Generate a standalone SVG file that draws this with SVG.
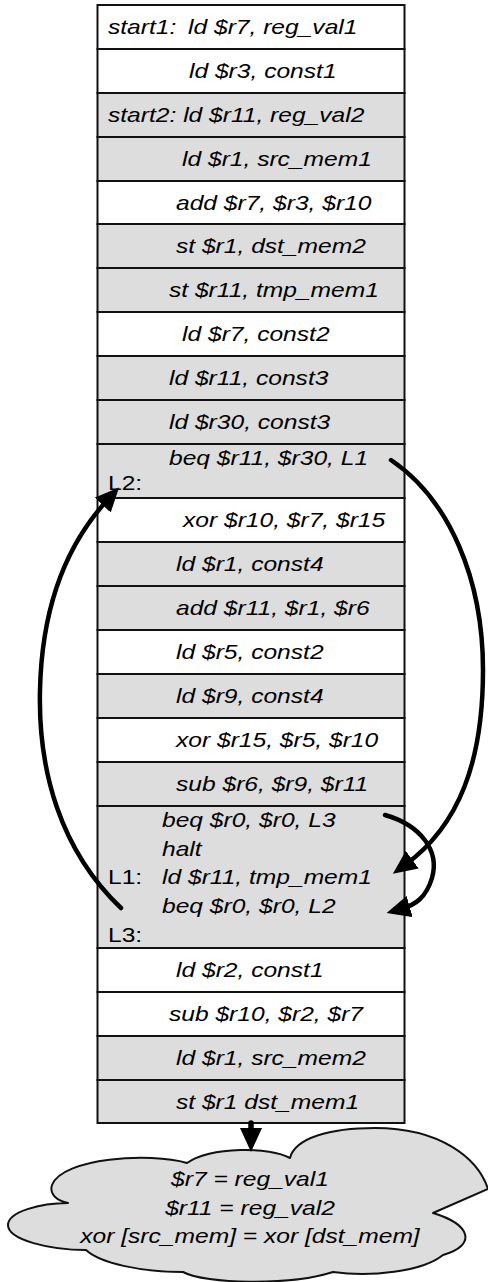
<svg xmlns="http://www.w3.org/2000/svg" width="488" height="1282" viewBox="0 0 488 1282">
  <style>
    .cell { stroke: #111; stroke-width: 2; }
    .w { fill: #ffffff; }
    .g { fill: #dddddd; }
    .t { font-family: "Liberation Sans", Arial, sans-serif; font-size: 20.5px; font-style: italic; fill: #000; }
    .u { font-style: normal; }
    .arc { fill: none; stroke: #000; stroke-width: 4.5; stroke-linecap: round; }
    .cloud { fill: #dddddd; stroke: #111; stroke-width: 2; stroke-linejoin: round; }
  </style>
  <defs>
    <marker id="head" markerUnits="userSpaceOnUse" markerWidth="24" markerHeight="22" refX="9" refY="11" orient="auto" viewBox="0 0 24 22">
      <path d="M0,0 L24,11 L0,22 z" fill="#000"/>
    </marker>
  </defs>

  <rect width="488" height="1282" fill="#ffffff"/>

  <!-- instruction rows (text stretched horizontally 1.2x) -->
  <g id="row-start1"><rect class="cell w" x="97.5" y="5" width="307" height="44"/>
    <text class="t" transform="scale(1.2 1)" x="90" y="34.5">start1:<tspan x="156.67">ld $r7, reg_val1</tspan></text></g>
  <g id="row-ld-r3"><rect class="cell w" x="97.5" y="49" width="307" height="44"/>
    <text class="t" transform="scale(1.2 1)" x="157.5" y="78.5">ld $r3, const1</text></g>
  <g id="row-start2"><rect class="cell g" x="97.5" y="93" width="307" height="44"/>
    <text class="t" transform="scale(1.2 1)" x="90" y="122.5">start2: ld $r11, reg_val2</text></g>
  <g id="row-ld-r1-src1"><rect class="cell g" x="97.5" y="137" width="307" height="44"/>
    <text class="t" transform="scale(1.2 1)" x="151.67" y="166.5">ld $r1, src_mem1</text></g>
  <g id="row-add-r7"><rect class="cell w" x="97.5" y="181" width="307" height="43"/>
    <text class="t" transform="scale(1.2 1)" x="146.67" y="210">add $r7, $r3, $r10</text></g>
  <g id="row-st-r1"><rect class="cell g" x="97.5" y="224" width="307" height="44"/>
    <text class="t" transform="scale(1.2 1)" x="146.67" y="253.5">st $r1, dst_mem2</text></g>
  <g id="row-st-r11"><rect class="cell g" x="97.5" y="268" width="307" height="44"/>
    <text class="t" transform="scale(1.2 1)" x="140.83" y="297.5">st $r11, tmp_mem1</text></g>
  <g id="row-ld-r7"><rect class="cell w" x="97.5" y="312" width="307" height="44"/>
    <text class="t" transform="scale(1.2 1)" x="151.67" y="341.5">ld $r7, const2</text></g>
  <g id="row-ld-r11"><rect class="cell g" x="97.5" y="356" width="307" height="44"/>
    <text class="t" transform="scale(1.2 1)" x="140.83" y="385.5">ld $r11, const3</text></g>
  <g id="row-ld-r30"><rect class="cell g" x="97.5" y="400" width="307" height="44"/>
    <text class="t" transform="scale(1.2 1)" x="140.83" y="429.5">ld $r30, const3</text></g>
  <g id="row-beq-l1"><rect class="cell g" x="97.5" y="444" width="307" height="54"/>
    <text class="t" transform="scale(1.2 1)" x="140.83" y="465">beq $r11, $r30, L1</text>
    <text class="t u" transform="scale(1.2 1)" x="90" y="490">L2:</text></g>
  <g id="row-xor-r10"><rect class="cell w" x="97.5" y="498" width="307" height="44"/>
    <text class="t" transform="scale(1.2 1)" x="152.5" y="527.5">xor $r10, $r7, $r15</text></g>
  <g id="row-ld-r1-c4"><rect class="cell g" x="97.5" y="542" width="307" height="44"/>
    <text class="t" transform="scale(1.2 1)" x="146.67" y="571.5">ld $r1, const4</text></g>
  <g id="row-add-r11"><rect class="cell g" x="97.5" y="586" width="307" height="44"/>
    <text class="t" transform="scale(1.2 1)" x="146.67" y="615.5">add $r11, $r1, $r6</text></g>
  <g id="row-ld-r5"><rect class="cell w" x="97.5" y="630" width="307" height="44"/>
    <text class="t" transform="scale(1.2 1)" x="146.67" y="659.5">ld $r5, const2</text></g>
  <g id="row-ld-r9"><rect class="cell g" x="97.5" y="674" width="307" height="44"/>
    <text class="t" transform="scale(1.2 1)" x="146.67" y="703.5">ld $r9, const4</text></g>
  <g id="row-xor-r15"><rect class="cell w" x="97.5" y="718" width="307" height="44"/>
    <text class="t" transform="scale(1.2 1)" x="146.67" y="747.5">xor $r15, $r5, $r10</text></g>
  <g id="row-sub-r6"><rect class="cell g" x="97.5" y="762" width="307" height="44"/>
    <text class="t" transform="scale(1.2 1)" x="146.67" y="791.5">sub $r6, $r9, $r11</text></g>
  <g id="row-branch-block"><rect class="cell g" x="97.5" y="806" width="307" height="142"/>
    <text class="t" transform="scale(1.2 1)" x="135" y="827">beq $r0, $r0, L3</text>
    <text class="t" transform="scale(1.2 1)" x="135" y="855.7">halt</text>
    <text class="t u" transform="scale(1.2 1)" x="90" y="884.4">L1:</text>
    <text class="t" transform="scale(1.2 1)" x="135" y="884.4">ld $r11, tmp_mem1</text>
    <text class="t" transform="scale(1.2 1)" x="135" y="913.1">beq $r0, $r0, L2</text>
    <text class="t u" transform="scale(1.2 1)" x="90" y="941.8">L3:</text></g>
  <g id="row-ld-r2"><rect class="cell w" x="97.5" y="948" width="307" height="44"/>
    <text class="t" transform="scale(1.2 1)" x="146.67" y="977.5">ld $r2, const1</text></g>
  <g id="row-sub-r10"><rect class="cell w" x="97.5" y="992" width="307" height="44"/>
    <text class="t" transform="scale(1.2 1)" x="140.83" y="1021.5">sub $r10, $r2, $r7</text></g>
  <g id="row-ld-r1-src2"><rect class="cell g" x="97.5" y="1036" width="307" height="44"/>
    <text class="t" transform="scale(1.2 1)" x="146.67" y="1065.5">ld $r1, src_mem2</text></g>
  <g id="row-st-dst1"><rect class="cell g" x="97.5" y="1080" width="307" height="43"/>
    <text class="t" transform="scale(1.2 1)" x="146.67" y="1109">st $r1 dst_mem1</text></g>

  <!-- postcondition cloud -->
  <g id="cloud-result">
    <path class="cloud" d="M68,1203
      C40,1203 8,1212 8,1225
      C8,1240 50,1250 86,1250
      C100,1263 140,1272 183,1272
      C205,1284 290,1286 333,1272
      C370,1277 422,1272 443,1255
      C478,1245 470,1224 433,1213
      L488,1189
      C478,1158 440,1128 375,1128
      C330,1128 295,1138 290,1158
      C270,1147 212,1146 187,1163
      C150,1152 62,1158 52,1185
      C49,1195 58,1201 68,1203 Z"/>
    <text class="t" transform="scale(1.2 1)" x="208.33" y="1186" text-anchor="middle">$r7 = reg_val1</text>
    <text class="t" transform="scale(1.2 1)" x="208.33" y="1215" text-anchor="middle">$r11 = reg_val2</text>
    <text class="t" transform="scale(1.2 1)" x="208.33" y="1243" text-anchor="middle">xor [src_mem] = xor [dst_mem]</text>
  </g>

  <!-- control-flow connectors -->
  <g id="connectors">
    <path class="arc" d="M391,460 C450,500 483,580 483,670 C483,760 460,825 405,865" marker-end="url(#head)"/>
    <path class="arc" d="M385,815 C420,825 440,850 432,878 C426,898 415,905 401,909" marker-end="url(#head)"/>
    <path class="arc" d="M121,908 C60,850 38,770 40,690 C42,600 70,540 108.8,498.5" marker-end="url(#head)"/>
    <path class="arc" style="stroke-width:5.5" d="M251,1123 L251,1137" marker-end="url(#head)"/>
  </g>
</svg>
